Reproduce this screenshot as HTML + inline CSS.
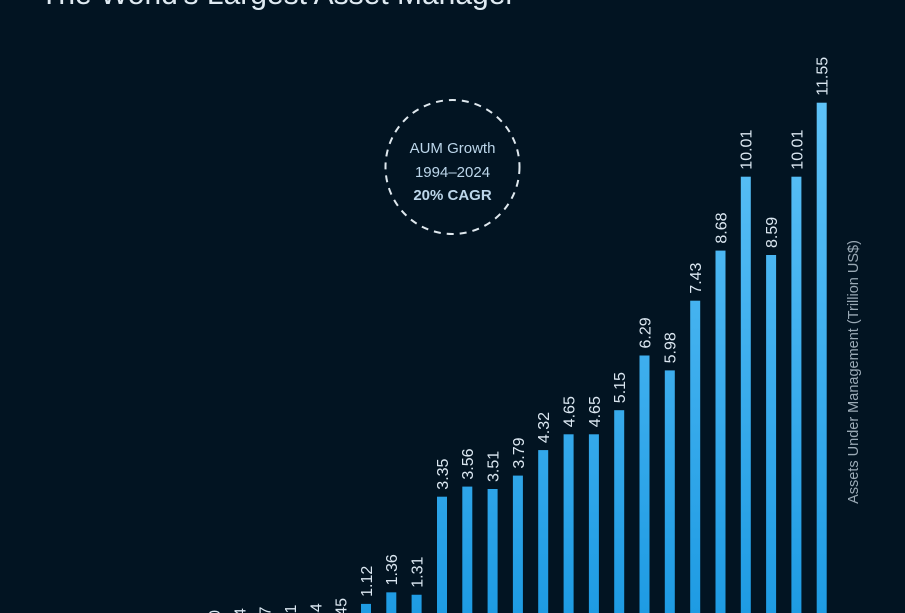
<!DOCTYPE html>
<html><head><meta charset="utf-8"><style>
html,body{margin:0;padding:0;background:#021422;width:905px;height:613px;overflow:hidden;}
svg{display:block}
</style></head><body>
<svg width="905" height="613" viewBox="0 0 905 613" xmlns="http://www.w3.org/2000/svg">
<defs>
<linearGradient id="g" gradientUnits="userSpaceOnUse" x1="0" y1="100" x2="0" y2="613">
<stop offset="0" stop-color="#5ec2f8"/><stop offset="1" stop-color="#1e9be3"/>
</linearGradient>
<clipPath id="c"><rect x="0" y="0" width="905" height="613"/></clipPath>
</defs>
<rect width="905" height="613" fill="#021422"/>
<g clip-path="url(#c)">
<text x="40" y="4" font-family="Liberation Sans, sans-serif" font-size="30" fill="#dfeaf2">The World's Largest Asset Manager</text>
<circle cx="452.5" cy="167" r="67" fill="none" stroke="#dfe8ee" stroke-width="2" stroke-dasharray="7 6"/>
<g font-family="Liberation Sans, sans-serif" font-size="15" fill="#bcd6ea" text-anchor="middle">
<text x="452.5" y="153">AUM Growth</text>
<text x="452.5" y="177">1994–2024</text>
<text x="452.5" y="200" font-weight="bold">20% CAGR</text>
</g>
<text transform="translate(858,372) rotate(-90)" font-family="Liberation Sans, sans-serif" font-size="14.5" fill="#9aa9b5" text-anchor="middle">Assets Under Management (Trillion US$)</text>
<g fill="url(#g)">
<rect x="361.0" y="603.9" width="10" height="9.1"/>
<rect x="386.3" y="592.35" width="10" height="20.65"/>
<rect x="411.6" y="594.75" width="10" height="18.25"/>
<rect x="437.0" y="496.7" width="10" height="116.3"/>
<rect x="462.3" y="486.6" width="10" height="126.4"/>
<rect x="487.6" y="489.0" width="10" height="124"/>
<rect x="512.9" y="475.6" width="10" height="137.4"/>
<rect x="538.2" y="450.1" width="10" height="162.9"/>
<rect x="563.6" y="434.3" width="10" height="178.7"/>
<rect x="588.9" y="434.3" width="10" height="178.7"/>
<rect x="614.2" y="410.2" width="10" height="202.8"/>
<rect x="639.5" y="355.5" width="10" height="257.5"/>
<rect x="664.8" y="370.4" width="10" height="242.6"/>
<rect x="690.2" y="300.7" width="10" height="312.3"/>
<rect x="715.5" y="250.6" width="10" height="362.4"/>
<rect x="740.8" y="176.7" width="10" height="436.3"/>
<rect x="766.1" y="255.0" width="10" height="358"/>
<rect x="791.4" y="176.7" width="10" height="436.3"/>
<rect x="816.7" y="102.7" width="10" height="510.3"/>
</g>
<g font-family="Liberation Sans, sans-serif" font-size="16" fill="#dbe7f1">
<text transform="translate(220,641.1) rotate(-90)">0.20</text>
<text transform="translate(245.3,639.2) rotate(-90)">0.24</text>
<text transform="translate(270.6,637.7) rotate(-90)">0.27</text>
<text transform="translate(295.9,635.8) rotate(-90)">0.31</text>
<text transform="translate(321.3,634.4) rotate(-90)">0.34</text>
<text transform="translate(346.6,629.1) rotate(-90)">0.45</text>
<text transform="translate(371.9,596.9) rotate(-90)">1.12</text>
<text transform="translate(397.2,585.35) rotate(-90)">1.36</text>
<text transform="translate(422.5,587.75) rotate(-90)">1.31</text>
<text transform="translate(447.9,489.7) rotate(-90)">3.35</text>
<text transform="translate(473.2,479.6) rotate(-90)">3.56</text>
<text transform="translate(498.5,482.0) rotate(-90)">3.51</text>
<text transform="translate(523.8,468.6) rotate(-90)">3.79</text>
<text transform="translate(549.1,443.1) rotate(-90)">4.32</text>
<text transform="translate(574.5,427.3) rotate(-90)">4.65</text>
<text transform="translate(599.8,427.3) rotate(-90)">4.65</text>
<text transform="translate(625.1,403.2) rotate(-90)">5.15</text>
<text transform="translate(650.4,348.5) rotate(-90)">6.29</text>
<text transform="translate(675.7,363.4) rotate(-90)">5.98</text>
<text transform="translate(701.1,293.7) rotate(-90)">7.43</text>
<text transform="translate(726.4,243.6) rotate(-90)">8.68</text>
<text transform="translate(751.7,169.7) rotate(-90)">10.01</text>
<text transform="translate(777,248.0) rotate(-90)">8.59</text>
<text transform="translate(802.3,169.7) rotate(-90)">10.01</text>
<text transform="translate(827.6,95.7) rotate(-90)">11.55</text>
</g>
</g>
</svg>
</body></html>
